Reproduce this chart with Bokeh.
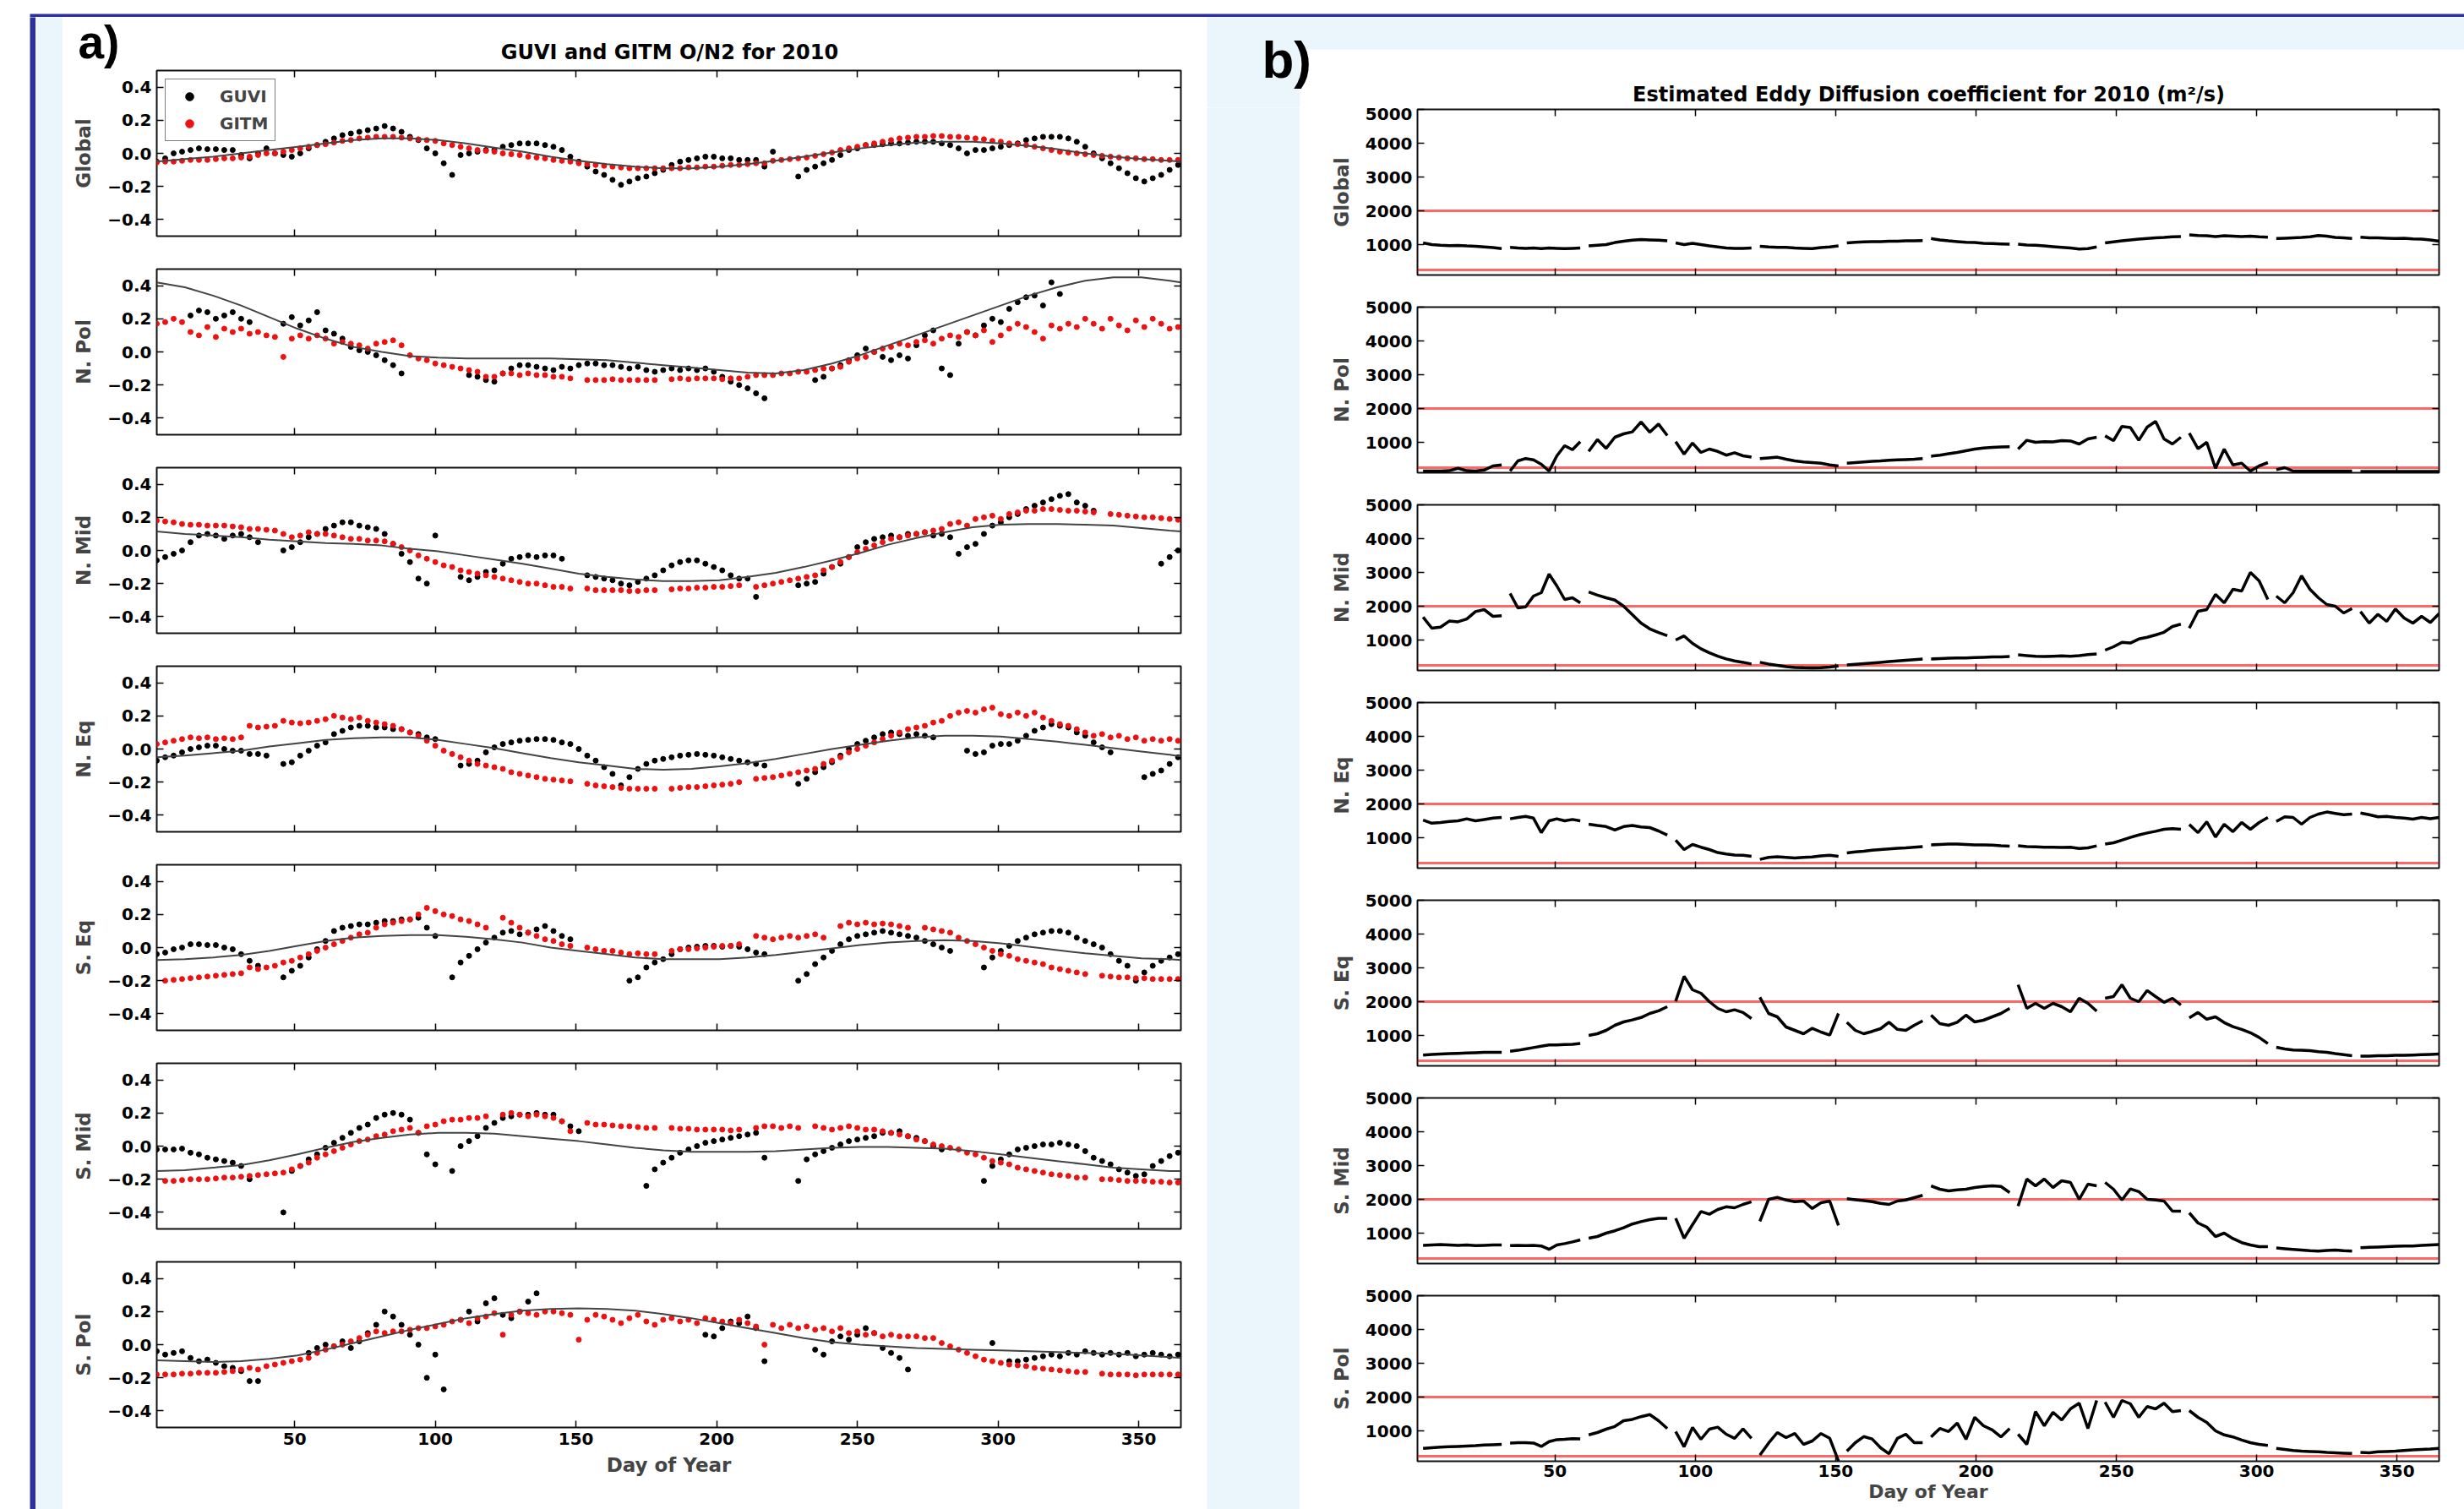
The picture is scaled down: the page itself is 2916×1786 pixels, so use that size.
import numpy as np
from bokeh.plotting import figure
from bokeh.models import (Range1d, LinearAxis, FixedTicker, CustomJSTickFormatter,
                          Label, Legend, LegendItem, Span)
from bokeh.layouts import row, column
from bokeh.embed import file_html
from bokeh.resources import INLINE

nan = float("nan")

# ---------------- data ----------------
day_of_year = list(range(1, 365, 3))          # GUVI / GITM sample days
fit_day = list(range(1, 362, 10)) + [365]      # fitted-curve sample days
month_first = [1, 32, 60, 91, 121, 152, 182, 213, 244, 274, 305, 335]
month_last = [31, 59, 90, 120, 151, 181, 212, 243, 273, 304, 334, 365]
tick_days = [50, 100, 150, 200, 250, 300, 350]
on2_ticks = [-0.4, -0.2, 0.0, 0.2, 0.4]
eddy_ticks = [1000, 2000, 3000, 4000, 5000]
eddy_limits = [250, 2000]
region_names = ["Global", "N. Pol", "N. Mid", "N. Eq", "S. Eq", "S. Mid", "S. Pol"]

guvi_global = [
    -0.05, -0.03, 0.0, 0.01, 0.02, 0.03, 0.025, 0.025, 0.02, 0.02,
    -0.01, -0.03, 0.0, 0.03, 0.0, -0.01, -0.02, 0.0, 0.03, 0.05,
    0.07, 0.09, 0.11, 0.12, 0.13, 0.14, 0.15, 0.165, 0.15, 0.13,
    0.1, 0.08, 0.03, 0.0, -0.06, -0.13, -0.01, 0.0, 0.01, 0.02,
    0.02, 0.04, 0.05, 0.06, 0.06, 0.06, 0.05, 0.04, 0.02, -0.02,
    -0.05, -0.08, -0.11, -0.13, -0.16, -0.19, -0.17, -0.15, -0.14, -0.12,
    -0.1, -0.07, -0.05, -0.04, -0.03, -0.02, -0.02, -0.03, -0.03, -0.04,
    -0.04, -0.04, -0.08, 0.01, nan, nan, -0.14, -0.1, -0.08, -0.06,
    -0.04, -0.01, 0.02, 0.03, 0.05, 0.05, 0.055, 0.06, 0.06, 0.065,
    0.07, 0.07, 0.07, 0.06, 0.05, 0.03, 0.0, 0.02, 0.02, 0.03,
    0.04, 0.05, 0.06, 0.08, 0.09, 0.1, 0.1, 0.1, 0.09, 0.07,
    0.04, 0.0, -0.03, -0.06, -0.09, -0.12, -0.15, -0.17, -0.15, -0.13,
    -0.1, -0.07]
gitm_global = [
    -0.055, -0.05, -0.05, -0.045, -0.04, -0.04, -0.04, -0.035, -0.03, -0.03,
    -0.025, -0.02, -0.01, 0.0, 0.0, 0.01, 0.02, 0.03, 0.04, 0.05,
    0.055, 0.065, 0.075, 0.08, 0.09, 0.095, 0.1, 0.1, 0.1, 0.095,
    0.09, 0.085, 0.08, 0.075, 0.06, 0.05, 0.04, 0.03, 0.02, 0.015,
    0.01, 0.0, -0.005, -0.01, -0.02, -0.025, -0.03, -0.04, -0.045, -0.05,
    -0.06, -0.065, -0.07, -0.075, -0.08, -0.085, -0.09, -0.09, -0.09, -0.09,
    -0.09, -0.09, -0.09, -0.085, -0.085, -0.08, -0.08, -0.075, -0.07, -0.07,
    -0.065, -0.06, -0.06, -0.045, -0.04, -0.035, -0.03, -0.025, -0.015, -0.005,
    0.005, 0.02, 0.03, 0.04, 0.05, 0.06, 0.07, 0.08, 0.09, 0.095,
    0.1, 0.1, 0.105, 0.105, 0.1, 0.1, 0.095, 0.09, 0.085, 0.075,
    0.07, 0.06, 0.055, 0.05, 0.04, 0.03, 0.02, 0.01, 0.005, 0.0,
    -0.005, -0.01, -0.015, -0.02, -0.025, -0.03, -0.03, -0.035, -0.035, -0.04,
    -0.04, -0.04]
fit_global = [-0.05, -0.035, -0.02, 0.0, 0.02, 0.04, 0.06, 0.08, 0.09, 0.09,
              0.08, 0.06, 0.035, 0.01, -0.02, -0.045, -0.065, -0.08, -0.09, -0.09,
              -0.08, -0.065, -0.045, -0.02, 0.005, 0.03, 0.05, 0.065, 0.07, 0.07,
              0.06, 0.045, 0.025, 0.0, -0.02, -0.035, -0.045, -0.05]

guvi_npol = [
    nan, nan, nan, nan, 0.22, 0.25, 0.24, 0.2, 0.22, 0.24,
    0.2, 0.18, nan, nan, nan, 0.17, 0.21, 0.16, 0.19, 0.24,
    0.13, 0.11, 0.08, 0.03, 0.01, 0.0, -0.02, -0.05, -0.08, -0.13,
    nan, nan, nan, nan, nan, nan, nan, -0.14, -0.15, -0.17,
    -0.18, -0.13, -0.1, -0.08, -0.08, -0.09, -0.1, -0.11, -0.09, -0.1,
    -0.08, -0.07, -0.07, -0.08, -0.08, -0.09, -0.1, -0.09, -0.11, -0.12,
    -0.11, -0.1, -0.11, -0.1, -0.11, -0.1, -0.12, -0.15, -0.18, -0.2,
    -0.22, -0.25, -0.28, nan, nan, nan, nan, nan, -0.17, -0.15,
    -0.1, -0.08, -0.05, -0.02, 0.02, 0.0, -0.03, -0.05, -0.02, -0.04,
    0.04, 0.1, 0.13, -0.1, -0.14, 0.05, 0.12, 0.1, 0.16, 0.2,
    0.18, 0.26, 0.3, 0.33, 0.34, 0.28, 0.42, 0.35, nan, nan,
    nan, nan, nan, nan, nan, nan, nan, nan, nan, nan,
    nan, nan]
gitm_npol = [
    0.17, 0.18, 0.2, 0.18, 0.12, 0.1, 0.15, 0.09, 0.14, 0.12,
    0.14, 0.11, 0.12, 0.1, 0.09, -0.03, 0.08, 0.1, 0.08, 0.1,
    0.08, 0.05, 0.06, 0.05, 0.04, 0.02, 0.05, 0.06, 0.07, 0.04,
    -0.02, -0.04, -0.05, -0.07, -0.08, -0.09, -0.1, -0.11, -0.12, -0.15,
    -0.15, -0.13, -0.13, -0.14, -0.13, -0.14, -0.14, -0.15, -0.15, -0.16,
    nan, -0.17, -0.17, -0.17, -0.165, -0.17, -0.17, -0.17, -0.17, -0.17,
    nan, -0.165, -0.16, -0.165, -0.16, -0.16, -0.16, -0.165, -0.16, -0.16,
    -0.15, -0.14, -0.14, -0.14, -0.13, -0.13, -0.12, -0.12, -0.11, -0.1,
    -0.1, -0.09, -0.06, -0.04, -0.03, 0.0, 0.02, 0.03, 0.05, 0.04,
    0.06, 0.07, 0.05, 0.08, 0.1, 0.09, 0.12, 0.1, 0.13, 0.06,
    0.1, 0.14, 0.17, 0.15, 0.12, 0.08, 0.16, 0.14, 0.17, 0.15,
    0.2, 0.17, 0.14, 0.2, 0.16, 0.13, 0.19, 0.15, 0.2, 0.17,
    0.14, 0.15]
fit_npol = [0.42, 0.39, 0.34, 0.28, 0.21, 0.14, 0.08, 0.03, 0.0, -0.025,
            -0.035, -0.04, -0.04, -0.04, -0.04, -0.045, -0.05, -0.065, -0.08, -0.095,
            -0.11, -0.125, -0.13, -0.11, -0.07, -0.02, 0.04, 0.1, 0.16, 0.22,
            0.28, 0.34, 0.39, 0.43, 0.45, 0.45, 0.43, 0.42]

guvi_nmid = [
    -0.06, -0.04, -0.02, 0.0, 0.05, 0.09, 0.1, 0.09, 0.07, 0.09,
    0.1, 0.08, 0.05, nan, nan, 0.0, 0.02, 0.05, 0.08, 0.1,
    0.13, 0.15, 0.17, 0.17, 0.15, 0.14, 0.13, 0.1, 0.04, -0.02,
    -0.07, -0.17, -0.2, 0.09, nan, nan, -0.16, -0.18, -0.16, -0.13,
    -0.12, -0.08, -0.05, -0.04, -0.03, -0.04, -0.03, -0.03, -0.05, nan,
    nan, -0.15, -0.16, -0.17, -0.18, -0.2, -0.21, -0.19, -0.17, -0.15,
    -0.12, -0.09, -0.07, -0.06, -0.06, -0.08, -0.1, -0.12, -0.15, -0.17,
    -0.17, -0.28, nan, nan, nan, nan, -0.21, -0.2, -0.19, -0.14,
    -0.1, -0.08, -0.04, 0.02, 0.05, 0.07, 0.08, 0.09, 0.08, 0.1,
    0.1, 0.11, 0.09, 0.1, 0.08, -0.02, 0.02, 0.04, 0.1, 0.15,
    0.17, 0.2, 0.22, 0.25, 0.27, 0.29, 0.31, 0.33, 0.34, 0.29,
    0.27, 0.24, nan, nan, nan, nan, nan, nan, nan, -0.08,
    -0.04, 0.0]
gitm_nmid = [
    0.18, 0.175, 0.17, 0.16, 0.155, 0.155, 0.15, 0.15, 0.15, 0.145,
    0.14, 0.13, 0.13, 0.125, 0.12, 0.1, 0.08, 0.09, 0.11, 0.1,
    0.1, 0.09, 0.08, 0.07, 0.07, 0.06, 0.06, 0.055, 0.04, 0.02,
    0.0, -0.03, -0.05, -0.07, -0.09, -0.1, -0.12, -0.13, -0.14, -0.15,
    -0.16, -0.17, -0.18, -0.19, -0.2, -0.2, -0.21, -0.22, -0.22, -0.23,
    nan, -0.23, -0.24, -0.24, -0.24, -0.24, -0.245, -0.245, -0.24, -0.24,
    nan, -0.235, -0.23, -0.23, -0.225, -0.225, -0.22, -0.22, -0.215, -0.21,
    nan, -0.22, -0.21, -0.2, -0.19, -0.18, -0.17, -0.16, -0.15, -0.12,
    -0.1, -0.07, -0.04, -0.01, 0.01, 0.03, 0.05, 0.07, 0.08, 0.09,
    0.1, 0.11, 0.12, 0.13, 0.16, 0.17, 0.15, 0.19, 0.2, 0.21,
    0.19, 0.22, 0.23, 0.24, 0.24, 0.25, 0.25, 0.245, 0.24, 0.24,
    0.235, 0.23, nan, 0.22, 0.215, 0.21, 0.205, 0.2, 0.2, 0.195,
    0.19, 0.185]
fit_nmid = [0.115, 0.1, 0.09, 0.08, 0.065, 0.055, 0.045, 0.04, 0.03, 0.01,
            -0.005, -0.03, -0.055, -0.08, -0.11, -0.14, -0.16, -0.175, -0.185, -0.185,
            -0.18, -0.16, -0.135, -0.1, -0.06, -0.015, 0.035, 0.075, 0.11, 0.14,
            0.155, 0.16, 0.16, 0.155, 0.15, 0.135, 0.12, 0.115]

guvi_neq = [
    -0.07, -0.05, -0.04, -0.02, 0.0, 0.01, 0.02, 0.02, 0.0, -0.01,
    -0.01, -0.03, -0.03, -0.04, nan, -0.09, -0.08, -0.04, -0.01, 0.02,
    0.04, 0.09, 0.11, 0.13, 0.14, 0.14, 0.13, 0.13, 0.12, 0.12,
    0.1, 0.09, 0.07, 0.06, nan, nan, -0.1, -0.09, -0.07, -0.02,
    0.01, 0.03, 0.04, 0.05, 0.055, 0.06, 0.06, 0.055, 0.04, 0.03,
    0.0, -0.04, -0.07, -0.11, -0.15, -0.22, -0.17, -0.12, -0.09, -0.07,
    -0.06, -0.05, -0.04, -0.035, -0.03, -0.035, -0.04, -0.05, -0.06, -0.07,
    -0.08, -0.09, -0.1, nan, nan, nan, -0.21, -0.18, -0.14, -0.11,
    -0.08, -0.04, 0.0, 0.03, 0.05, 0.07, 0.09, 0.1, 0.09, 0.08,
    0.09, 0.08, 0.07, nan, nan, nan, -0.01, -0.03, -0.02, 0.02,
    0.03, 0.03, 0.05, 0.08, 0.11, 0.13, 0.15, 0.14, 0.13, 0.1,
    0.08, 0.04, 0.01, -0.02, nan, nan, nan, -0.17, -0.15, -0.13,
    -0.09, -0.05]
gitm_neq = [
    0.03, 0.04, 0.05, 0.06, 0.07, 0.065, 0.07, 0.06, 0.065, 0.06,
    0.07, 0.14, 0.13, 0.135, 0.14, 0.17, 0.16, 0.155, 0.16, 0.17,
    0.18, 0.2, 0.19, 0.18, 0.19, 0.17, 0.16, 0.15, 0.14, 0.12,
    0.1, 0.08, 0.05, 0.02, -0.01, -0.03, -0.05, -0.07, -0.09, -0.1,
    -0.11, -0.12, -0.14, -0.15, -0.16, -0.17, -0.18, -0.185, -0.19, -0.195,
    nan, -0.21, -0.22, -0.225, -0.23, -0.235, -0.24, -0.24, -0.24, -0.24,
    nan, -0.24, -0.235, -0.23, -0.23, -0.225, -0.22, -0.215, -0.21, -0.2,
    nan, -0.18, -0.175, -0.17, -0.16, -0.15, -0.14, -0.13, -0.12, -0.09,
    -0.07, -0.05, -0.02, 0.0, 0.02, 0.04, 0.06, 0.08, 0.1, 0.12,
    0.13, 0.14, 0.16, 0.17, 0.2, 0.22, 0.23, 0.22, 0.24, 0.25,
    0.21, 0.2, 0.22, 0.2, 0.22, 0.19, 0.17, 0.15, 0.14, 0.12,
    0.1, 0.08, 0.09, 0.07, 0.08, 0.06, 0.07, 0.05, 0.06, 0.05,
    0.06, 0.05]
fit_neq = [-0.05, -0.04, -0.025, -0.01, 0.015, 0.035, 0.055, 0.065, 0.07, 0.07,
           0.055, 0.03, 0.005, -0.025, -0.055, -0.08, -0.1, -0.12, -0.125, -0.12,
           -0.105, -0.085, -0.06, -0.03, 0.0, 0.025, 0.05, 0.07, 0.08, 0.08,
           0.075, 0.06, 0.045, 0.025, 0.005, -0.015, -0.035, -0.045]

guvi_seq = [
    -0.04, -0.03, -0.01, 0.0, 0.02, 0.02, 0.015, 0.015, 0.0, -0.01,
    -0.04, -0.08, -0.11, nan, nan, -0.18, -0.14, -0.11, -0.06, -0.01,
    0.04, 0.1, 0.12, 0.13, 0.14, 0.14, 0.15, 0.16, 0.16, 0.17,
    0.17, 0.18, 0.12, 0.07, nan, -0.18, -0.09, -0.05, -0.01, 0.03,
    0.06, 0.09, 0.1, 0.08, 0.09, 0.11, 0.13, 0.1, 0.07, 0.05,
    nan, nan, nan, nan, nan, nan, -0.2, -0.18, -0.12, -0.09,
    -0.07, -0.04, -0.01, 0.0, 0.005, 0.01, 0.01, 0.005, 0.01, 0.005,
    -0.01, -0.03, -0.04, nan, nan, nan, -0.2, -0.16, -0.1, -0.06,
    -0.02, 0.02, 0.05, 0.07, 0.08, 0.09, 0.1, 0.09, 0.08, 0.07,
    0.06, 0.04, 0.02, 0.0, -0.02, nan, nan, nan, -0.12, -0.06,
    -0.02, 0.01, 0.04, 0.06, 0.08, 0.09, 0.1, 0.1, 0.09, 0.06,
    0.04, 0.02, 0.0, -0.04, -0.08, -0.11, -0.2, -0.15, -0.11, -0.08,
    -0.06, -0.04]
gitm_seq = [
    nan, -0.2, -0.195, -0.19, -0.185, -0.18, -0.175, -0.17, -0.165, -0.16,
    -0.155, -0.12, -0.13, -0.12, -0.11, -0.09, -0.08, -0.06, -0.04, -0.02,
    0.0, 0.02, 0.04, 0.06, 0.08, 0.09, 0.12, 0.14, 0.15, 0.16,
    0.17, 0.2, 0.24, 0.22, 0.2, 0.19, 0.17, 0.16, 0.14, 0.12,
    nan, 0.18, 0.15, 0.12, 0.09, 0.07, 0.05, 0.04, 0.02, 0.01,
    nan, 0.0, -0.01, -0.02, -0.02, -0.03, -0.04, -0.035, -0.04, -0.04,
    nan, -0.02, -0.01, -0.01, -0.005, 0.0, 0.005, 0.01, 0.01, 0.02,
    nan, 0.07, 0.06, 0.05, 0.06, 0.07, 0.06, 0.07, 0.08, 0.06,
    nan, 0.13, 0.15, 0.14, 0.15, 0.14, 0.145, 0.14, 0.13, 0.12,
    nan, 0.12, 0.11, 0.1, 0.09, 0.06, 0.04, 0.02, 0.0, -0.02,
    -0.04, -0.05, -0.07, -0.08, -0.09, -0.1, -0.12, -0.13, -0.14, -0.15,
    -0.16, nan, -0.17, -0.175, -0.18, -0.18, -0.185, -0.185, -0.19, -0.19,
    -0.19, -0.19]
fit_seq = [-0.075, -0.07, -0.06, -0.045, -0.02, 0.01, 0.04, 0.06, 0.07, 0.075,
           0.075, 0.065, 0.05, 0.03, 0.0, -0.02, -0.04, -0.06, -0.07, -0.07,
           -0.07, -0.06, -0.045, -0.025, -0.005, 0.015, 0.03, 0.04, 0.045, 0.04,
           0.025, 0.005, -0.015, -0.035, -0.05, -0.065, -0.07, -0.075]

guvi_smid = [
    -0.02, -0.02, -0.02, -0.015, -0.04, -0.05, -0.07, -0.08, -0.09, -0.1,
    -0.12, -0.2, nan, nan, nan, -0.4, -0.15, -0.12, -0.08, -0.05,
    -0.01, 0.02, 0.05, 0.08, 0.11, 0.13, 0.17, 0.19, 0.2, 0.19,
    0.16, 0.08, -0.05, -0.11, nan, -0.15, 0.0, 0.03, 0.06, 0.11,
    0.14, 0.17, 0.18, 0.19, 0.19, 0.2, 0.19, 0.19, 0.15, 0.12,
    0.09, nan, nan, nan, nan, nan, nan, nan, -0.24, -0.14,
    -0.1, -0.07, -0.04, -0.02, 0.0, 0.02, 0.03, 0.04, 0.05, 0.06,
    0.07, 0.08, -0.07, nan, nan, nan, -0.21, -0.08, -0.05, -0.03,
    -0.01, 0.01, 0.03, 0.04, 0.05, 0.06, 0.08, 0.08, 0.09, 0.06,
    0.05, 0.03, 0.0, -0.02, nan, nan, nan, nan, -0.21, -0.12,
    -0.08, -0.05, -0.02, -0.01, 0.0, 0.01, 0.01, 0.02, 0.01, 0.0,
    -0.03, -0.07, -0.09, -0.11, -0.14, -0.16, -0.18, -0.17, -0.12, -0.09,
    -0.06, -0.04]
gitm_smid = [
    nan, -0.21, -0.21, -0.205, -0.2, -0.2, -0.2, -0.195, -0.19, -0.19,
    -0.185, -0.18, -0.175, -0.17, -0.165, -0.16, -0.14, -0.12, -0.1, -0.07,
    -0.05, -0.03, -0.01, 0.01, 0.03, 0.04, 0.06, 0.07, 0.09, 0.1,
    0.11, 0.08, 0.12, 0.13, 0.15, 0.16, 0.16, 0.17, 0.17, 0.18,
    nan, 0.19, 0.2, 0.19, 0.18, 0.19, 0.18, 0.17, 0.15, 0.09,
    nan, 0.14, 0.13, 0.13, 0.125, 0.12, 0.12, 0.115, 0.11, 0.11,
    nan, 0.11, 0.105, 0.105, 0.1, 0.1, 0.1, 0.1, 0.095, 0.1,
    nan, 0.11, 0.12, 0.12, 0.11, 0.12, 0.11, nan, 0.12, 0.11,
    0.1, 0.11, 0.12, 0.11, 0.1, 0.1, 0.09, 0.08, 0.07, 0.06,
    0.04, 0.03, 0.01, 0.0, -0.01, -0.02, -0.04, -0.05, -0.07, -0.09,
    -0.1, -0.11, -0.13, -0.14, -0.15, -0.16, -0.17, -0.175, -0.18, -0.19,
    -0.19, nan, -0.2, -0.2, -0.205, -0.21, -0.21, -0.21, -0.215, -0.215,
    -0.22, -0.22]
fit_smid = [-0.15, -0.145, -0.13, -0.115, -0.085, -0.05, -0.01, 0.025, 0.05, 0.07,
            0.08, 0.08, 0.075, 0.06, 0.045, 0.03, 0.01, -0.01, -0.025, -0.035,
            -0.035, -0.035, -0.03, -0.02, -0.01, -0.005, -0.005, -0.01, -0.015, -0.03,
            -0.05, -0.07, -0.09, -0.11, -0.13, -0.14, -0.15, -0.15]

guvi_spol = [
    -0.04, -0.06, -0.05, -0.04, -0.08, -0.1, -0.09, -0.11, -0.13, -0.14,
    -0.16, -0.22, -0.22, nan, nan, nan, nan, nan, -0.05, -0.02,
    0.0, -0.01, 0.02, -0.02, 0.02, 0.07, 0.12, 0.2, 0.17, 0.12,
    0.06, 0.0, -0.2, -0.06, -0.27, nan, 0.15, 0.2, 0.14, 0.25,
    0.28, 0.18, 0.16, 0.2, 0.26, 0.31, nan, nan, nan, nan,
    nan, nan, nan, nan, nan, nan, nan, nan, nan, nan,
    nan, nan, nan, nan, nan, 0.06, 0.05, 0.1, 0.14, 0.13,
    0.17, 0.1, -0.1, nan, nan, nan, nan, nan, -0.03, -0.06,
    0.02, 0.05, 0.03, 0.06, 0.1, 0.07, -0.02, -0.05, -0.08, -0.15,
    nan, nan, nan, nan, nan, nan, nan, nan, nan, 0.01,
    nan, -0.1, -0.1, -0.09, -0.08, -0.07, -0.06, -0.07, -0.05, -0.06,
    -0.04, -0.05, -0.06, -0.05, -0.06, -0.05, -0.07, -0.06, -0.05, -0.06,
    -0.07, -0.06]
gitm_spol = [
    -0.18, -0.18, -0.18, -0.175, -0.175, -0.17, -0.17, -0.17, -0.165, -0.16,
    -0.15, -0.14, -0.15, -0.13, -0.12, -0.11, -0.1, -0.09, -0.08, -0.05,
    -0.03, -0.01, 0.0, 0.02, 0.04, 0.06, 0.08, 0.07, 0.08, 0.08,
    0.09, 0.1, 0.1, 0.11, 0.12, 0.14, 0.15, 0.13, 0.16, 0.17,
    0.19, 0.06, 0.18, 0.2, 0.19, 0.18, 0.2, 0.2, 0.19, 0.18,
    0.03, 0.15, 0.18, 0.17, 0.15, 0.13, 0.16, 0.18, 0.14, 0.12,
    0.15, 0.16, 0.14, 0.15, 0.13, 0.16, 0.15, 0.14, 0.13, 0.15,
    0.13, 0.11, 0.0, 0.12, 0.1, 0.12, 0.1, 0.11, 0.09, 0.1,
    0.08, 0.1, 0.07, 0.08, 0.06, 0.07, 0.05, 0.06, 0.05, 0.05,
    0.05, 0.04, 0.04, 0.01, -0.01, -0.03, -0.05, -0.07, -0.09, -0.1,
    -0.11, -0.12, -0.125, -0.13, -0.14, -0.145, -0.15, -0.155, -0.16, -0.165,
    -0.165, nan, -0.175, -0.18, -0.18, -0.18, -0.185, -0.18, -0.18, -0.18,
    -0.18, -0.18]
fit_spol = [-0.095, -0.1, -0.105, -0.1, -0.085, -0.065, -0.03, 0.01, 0.05, 0.09,
            0.125, 0.16, 0.185, 0.205, 0.215, 0.22, 0.215, 0.205, 0.185, 0.16,
            0.13, 0.1, 0.07, 0.04, 0.015, 0.0, -0.01, -0.02, -0.025, -0.03,
            -0.035, -0.04, -0.045, -0.05, -0.055, -0.065, -0.075, -0.08]

# Eddy diffusion coefficient (m^2/s), 10 samples per month, Jan..Dec
eddy_global = [
    1050, 1000, 980, 970, 975, 960, 950, 930, 910, 880,
    920, 900, 890, 900, 880, 900, 890, 880, 890, 900,
    960, 980, 1000, 1060, 1100, 1130, 1150, 1140, 1130, 1110,
    1050, 1000, 1040, 1000, 960, 930, 900, 890, 890, 900,
    950, 930, 920, 920, 900, 890, 880, 910, 930, 960,
    1050, 1070, 1080, 1090, 1090, 1100, 1100, 1110, 1110, 1120,
    1180, 1140, 1110, 1090, 1070, 1060, 1040, 1030, 1020, 1010,
    1010, 990, 980, 960, 940, 920, 900, 870, 880, 930,
    1050, 1080, 1110, 1140, 1160, 1180, 1200, 1210, 1230, 1240,
    1290, 1270, 1260, 1240, 1260, 1250, 1240, 1250, 1230, 1220,
    1180, 1190, 1200, 1210, 1230, 1270, 1250, 1210, 1200, 1180,
    1220, 1200, 1200, 1190, 1180, 1190, 1170, 1160, 1140, 1100]
eddy_npol = [
    150, 150, 150, 160, 230, 160, 150, 180, 300, 330,
    150, 450, 520, 480, 350, 150, 600, 900, 780, 1020,
    730, 1080, 820, 1150, 1250, 1310, 1600, 1300, 1540, 1200,
    1020, 650, 980, 700, 800, 730, 620, 690, 600, 560,
    520, 540, 560, 500, 450, 420, 400, 380, 330, 300,
    380, 400, 420, 440, 450, 470, 480, 490, 500, 520,
    590, 620, 660, 700, 750, 800, 830, 850, 860, 870,
    800, 1060, 1000, 1020, 1010, 1050, 1040, 950, 1100, 1150,
    1190, 1050, 1470, 1440, 1060, 1450, 1620, 1100, 950, 1150,
    1270, 810, 1000, 230, 800, 330, 380, 150, 300, 400,
    190, 250, 150, 150, 150, 150, 150, 150, 150, 150,
    140, 140, 140, 140, 140, 140, 140, 140, 140, 140]
eddy_nmid = [
    1680, 1350, 1380, 1560, 1540, 1620, 1840, 1900, 1700, 1720,
    2380, 1950, 1980, 2300, 2400, 2950, 2600, 2200, 2250, 2100,
    2420, 2330, 2250, 2180, 2000, 1750, 1500, 1330, 1220, 1130,
    1000, 1120, 900, 740, 620, 520, 440, 380, 340, 290,
    340, 290, 250, 210, 190, 180, 175, 180, 200, 230,
    260, 280, 300, 320, 340, 360, 380, 400, 420, 440,
    440, 450, 460, 470, 470, 480, 490, 500, 500, 510,
    560, 540, 520, 510, 520, 530, 520, 540, 570, 590,
    700, 800, 930, 910, 1030, 1080, 1150, 1230, 1400, 1470,
    1350, 1850, 1900, 2350, 2100, 2500, 2450, 3000, 2750, 2200,
    2300, 2100, 2400, 2900, 2500, 2250, 2050, 2000, 1800, 1930,
    1840, 1500, 1760, 1550, 1920, 1650, 1500, 1700, 1520, 1780]
eddy_neq = [
    1520, 1430, 1450, 1480, 1500, 1560, 1500, 1540, 1580, 1600,
    1560, 1600, 1630, 1580, 1150, 1500, 1560, 1500, 1540, 1500,
    1400, 1360, 1330, 1230, 1330, 1360, 1320, 1300, 1200, 1080,
    930, 650, 800, 720, 650, 560, 520, 490, 480, 450,
    360, 420, 440, 420, 400, 420, 430, 460, 480, 450,
    550, 580, 600, 630, 650, 670, 690, 700, 720, 740,
    790, 800, 810, 810, 800, 790, 790, 780, 760, 750,
    760, 740, 730, 720, 720, 710, 720, 680, 700, 760,
    810, 850, 930, 1010, 1080, 1140, 1190, 1250, 1270, 1250,
    1390, 1150, 1470, 1020, 1400, 1180, 1450, 1250, 1450, 1600,
    1480, 1620, 1600, 1400, 1600, 1700, 1760, 1720, 1680, 1700,
    1730, 1680, 1620, 1630, 1600, 1580, 1550, 1600, 1560, 1600]
eddy_seq = [
    420, 440, 450, 460, 470, 480, 490, 500, 500, 500,
    530, 560, 600, 640, 680, 720, 720, 730, 740, 760,
    1000, 1050, 1150, 1300, 1400, 1460, 1530, 1650, 1730, 1850,
    2010, 2750, 2350, 2250, 2000, 1800, 1700, 1760, 1680, 1500,
    2130, 1650, 1550, 1250, 1150, 1050, 1210, 1100, 1010, 1650,
    1390, 1150, 1050, 1120, 1200, 1390, 1180, 1150, 1300, 1430,
    1600, 1350, 1300, 1390, 1600, 1400, 1450, 1550, 1650, 1800,
    2500, 1800, 1950, 1800, 1950, 1850, 1700, 2100, 1950, 1720,
    2100, 2150, 2500, 2100, 2000, 2330, 2150, 1980, 2100, 1900,
    1520, 1680, 1480, 1550, 1380, 1260, 1180, 1080, 940, 760,
    650, 600, 570, 560, 550, 520, 500, 460, 430, 400,
    390, 390, 400, 400, 410, 410, 420, 430, 440, 450]
eddy_smid = [
    640, 650, 660, 650, 640, 650, 630, 640, 650, 650,
    630, 640, 630, 640, 620, 520, 650, 690, 740, 800,
    850, 900, 1000, 1070, 1160, 1270, 1340, 1400, 1440, 1440,
    1440, 850, 1250, 1640, 1560, 1700, 1780, 1750, 1850, 1930,
    1350, 2000, 2060, 1980, 1930, 1950, 1730, 1900, 1950, 1230,
    2020, 1990, 1960, 1930, 1880, 1850, 1950, 1980, 2050, 2120,
    2400, 2300, 2250, 2280, 2300, 2350, 2380, 2400, 2380, 2200,
    1800, 2600, 2400, 2600, 2350, 2550, 2500, 2000, 2450, 2400,
    2500, 2300, 1980, 2310, 2230, 2000, 1980, 1950, 1650, 1650,
    1600, 1300, 1180, 900, 1000, 840, 720, 650, 600, 600,
    560, 540, 520, 500, 480, 470, 490, 500, 480, 470,
    570, 580, 590, 600, 610, 620, 620, 640, 650, 660]
eddy_spol = [
    480, 500, 520, 530, 540, 550, 560, 580, 590, 600,
    640, 650, 650, 640, 540, 680, 740, 750, 770, 760,
    880, 950, 1050, 1130, 1300, 1340, 1420, 1480, 1300, 1070,
    980, 530, 1100, 750, 1050, 1110, 900, 780, 1060, 780,
    280, 640, 950, 800, 920, 600, 700, 920, 780, 110,
    400, 650, 830, 760, 500, 320, 780, 900, 650, 650,
    820, 1070, 980, 1230, 750, 1400, 1150, 1030, 820, 1070,
    900, 600, 1570, 1150, 1550, 1320, 1650, 1820, 1070, 1900,
    1850, 1400, 1900, 1800, 1400, 1720, 1650, 1820, 1570, 1600,
    1600, 1400, 1250, 1000, 880, 820, 730, 650, 600, 570,
    480, 450, 420, 400, 390, 380, 360, 350, 340, 330,
    360, 350, 380, 390, 400, 420, 440, 450, 460, 480]

on2_series = [
    (guvi_global, gitm_global, fit_global),
    (guvi_npol, gitm_npol, fit_npol),
    (guvi_nmid, gitm_nmid, fit_nmid),
    (guvi_neq, gitm_neq, fit_neq),
    (guvi_seq, gitm_seq, fit_seq),
    (guvi_smid, gitm_smid, fit_smid),
    (guvi_spol, gitm_spol, fit_spol),
]
eddy_series = [eddy_global, eddy_npol, eddy_nmid, eddy_neq, eddy_seq, eddy_smid, eddy_spol]

# ---------------- styling ----------------
FONT = "DejaVu Sans"
LIGHT = "#eaf6fc"
BLUE = "#2d2f9a"
RED = "#ee1111"


def block(w, h, color):
    p = figure(width=w, height=h, toolbar_location=None, output_backend="svg",
               x_axis_type=None, y_axis_type=None, min_border=0)
    p.background_fill_color = color
    p.border_fill_color = color
    p.outline_line_color = None
    return p


def canvas(w, h, color):
    p = figure(width=w, height=h, x_range=Range1d(0, w), y_range=Range1d(0, h),
               toolbar_location=None, output_backend="svg",
               x_axis_type=None, y_axis_type=None, min_border=0)
    p.background_fill_color = color
    p.border_fill_color = color
    p.outline_line_color = None
    return p


def tick_style(ax, labels):
    ax.axis_line_color = None
    ax.major_tick_in = 8
    ax.major_tick_out = 0
    ax.minor_tick_in = 0
    ax.minor_tick_out = 0
    ax.minor_tick_line_color = None
    ax.major_tick_line_color = "black"
    ax.major_tick_line_width = 1.5
    ax.major_label_text_font = FONT
    ax.major_label_text_font_style = "bold"
    if labels:
        ax.major_label_text_color = "black"
        ax.major_label_text_font_size = "20px"
        ax.major_label_standoff = 6
    else:
        ax.major_label_text_color = None
        ax.major_label_text_font_size = "0px"
        ax.major_label_standoff = 0


def panel(width, height, left, right, top, bottom, yrange, yticks, yfmt, name, xlabels):
    p = figure(width=width, height=height, x_range=Range1d(1, 365), y_range=yrange,
               toolbar_location=None, output_backend="svg",
               x_axis_type=None, y_axis_type=None,
               min_border_left=left, min_border_right=right,
               min_border_top=top, min_border_bottom=bottom)
    p.background_fill_color = "white"
    p.border_fill_color = "white"
    p.outline_line_color = "#111111"
    p.outline_line_width = 2
    xb = LinearAxis(ticker=FixedTicker(ticks=tick_days))
    tick_style(xb, xlabels)
    p.add_layout(xb, "below")
    xt = LinearAxis(ticker=FixedTicker(ticks=tick_days))
    tick_style(xt, False)
    p.add_layout(xt, "above")
    yl = LinearAxis(ticker=FixedTicker(ticks=yticks), axis_label=name)
    tick_style(yl, True)
    if yfmt is not None:
        yl.formatter = yfmt
    yl.axis_label_text_font = FONT
    yl.axis_label_text_font_style = "bold"
    yl.axis_label_text_font_size = "23px"
    yl.axis_label_standoff = 12
    p.add_layout(yl, "left")
    yr = LinearAxis(ticker=FixedTicker(ticks=yticks))
    tick_style(yr, False)
    p.add_layout(yr, "right")
    return p, xb


minus_fmt = CustomJSTickFormatter(code="return tick.toFixed(1).replace('-', '\u2212');")

# ---------------- left column: O/N2 ----------------
hdr_l = canvas(1354, 61, "white")
hdr_l.add_layout(Label(x=18, y=32, text="a)", text_font="Liberation Sans",
                       text_font_style="bold", text_font_size="55px",
                       text_baseline="middle", text_color="black"))
hdr_l.add_layout(Label(x=718, y=20, text="GUVI and GITM O/N2 for 2010",
                       text_font=FONT, text_font_style="bold", text_font_size="24px",
                       text_align="center", text_baseline="middle", text_color="black"))

left_figs = []
for k, (guvi, gitm, fit) in enumerate(on2_series):
    top = 2 if k == 0 else 20
    bottom = 97 if k == 6 else 19
    p, xb = panel(1354, top + 196 + bottom, 111, 31, top, bottom, Range1d(-0.5, 0.5),
                  on2_ticks, minus_fmt, region_names[k], k == 6)
    n1 = min(len(day_of_year), len(guvi))
    n2 = min(len(day_of_year), len(gitm))
    n3 = min(len(fit_day), len(fit))
    r1 = p.scatter(day_of_year[:n1], guvi[:n1], size=6, color="black", marker="circle")
    r2 = p.scatter(day_of_year[:n2], gitm[:n2], size=6, color=RED, marker="circle")
    p.line(fit_day[:n3], fit[:n3], line_color="#444444", line_width=2)
    if k == 0:
        leg = Legend(items=[LegendItem(label="GUVI", renderers=[r1]),
                            LegendItem(label="GITM", renderers=[r2])],
                     location="top_left")
        leg.label_text_font = FONT
        leg.label_text_font_style = "bold"
        leg.label_text_font_size = "20px"
        leg.border_line_color = "black"
        leg.border_line_width = 1.5
        leg.background_fill_color = "white"
        leg.background_fill_alpha = 1.0
        leg.padding = 8
        leg.spacing = 8
        leg.glyph_width = 40
        leg.glyph_height = 24
        leg.label_height = 24
        leg.label_standoff = 16
        leg.margin = 10
        p.add_layout(leg)
    if k == 6:
        xb.axis_label = "Day of Year"
        xb.axis_label_text_font = FONT
        xb.axis_label_text_font_style = "bold"
        xb.axis_label_text_font_size = "23px"
        xb.axis_label_standoff = 8
    left_figs.append(p)

# ---------------- right column: eddy diffusion ----------------
def month_series(vals):
    xs, ys = [], []
    for m in range(12):
        seg = vals[m * 10:(m + 1) * 10]
        d = np.linspace(month_first[m] + 2, month_last[m], len(seg))
        xs += [float(v) for v in d] + [nan]
        ys += [float(v) for v in seg] + [nan]
    return xs, ys


right_figs = []
for k, vals in enumerate(eddy_series):
    top = 2 if k == 0 else 20
    bottom = 57 if k == 6 else 18
    p, xb = panel(1378, top + 196 + bottom, 139, 30, top, bottom, Range1d(100, 5000),
                  eddy_ticks, None, region_names[k], k == 6)
    for lim in eddy_limits:
        p.add_layout(Span(location=lim, dimension="width", line_color="red",
                          line_alpha=0.6, line_width=3, level="underlay"))
    xs, ys = month_series(vals)
    p.line(xs, ys, line_color="black", line_width=3.5)
    if k == 6:
        xb.major_label_standoff = 4
        xb.axis_label = "Day of Year"
        xb.axis_label_text_font = FONT
        xb.axis_label_text_font_style = "bold"
        xb.axis_label_text_font_size = "22px"
        xb.axis_label_standoff = 2
    right_figs.append(p)

hdr_r = canvas(1488, 107, LIGHT)
hdr_r.quad(left=110, right=1488, bottom=0, top=69, color="white", line_color=None)
hdr_r.add_layout(Label(x=65, y=57, text="b)", text_font="Liberation Sans", text_font_style="bold",
                       text_font_size="62px", text_baseline="middle", text_color="black"))
hdr_r.add_layout(Label(x=854, y=16, text="Estimated Eddy Diffusion coefficient for 2010 (m\u00b2/s)",
                       text_font=FONT, text_font_style="bold", text_font_size="24px",
                       text_align="center", text_baseline="middle", text_color="black"))

# header kept outside the column of panels so its frame is not aligned to theirs
left_block = column(hdr_l, column(*left_figs))
right_block = column(hdr_r, row(block(110, 1659, LIGHT), column(*right_figs)))

main = row(block(35, 1766, "white"), block(7, 1766, BLUE), block(32, 1766, LIGHT),
           left_block, right_block)
top_strip = row(block(35, 8, "white"), block(2881, 8, BLUE))
root = column(block(2916, 12, "white"), top_strip, main)

open("out.html", "w").write(file_html(root, INLINE, title="GUVI and GITM O/N2 / Eddy diffusion 2010"))
